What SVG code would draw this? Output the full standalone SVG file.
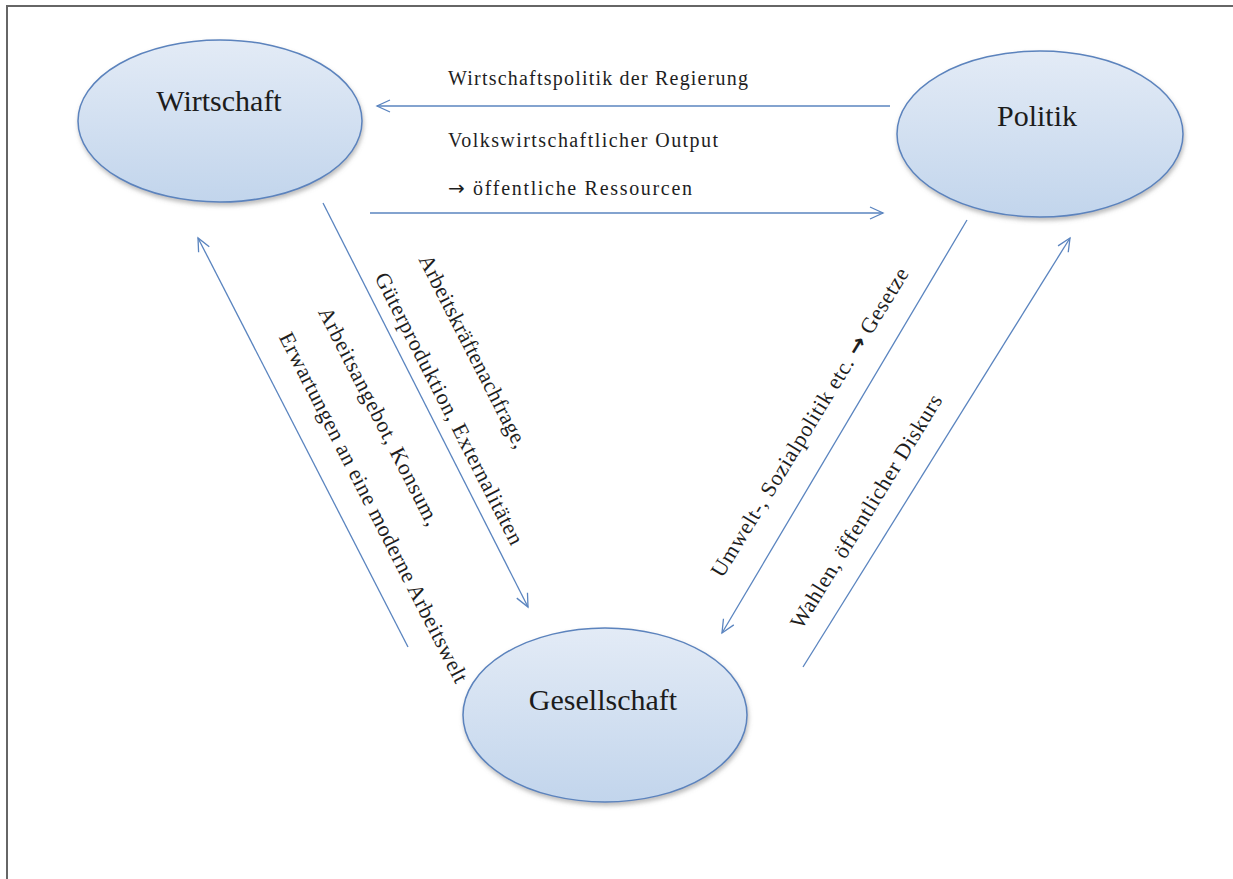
<svg xmlns="http://www.w3.org/2000/svg" width="1233" height="879" viewBox="0 0 1233 879">
  <defs>
    <linearGradient id="nodeFill" x1="0" y1="0" x2="0" y2="1">
      <stop offset="0" stop-color="#e3ebf6"/>
      <stop offset="1" stop-color="#c2d5ec"/>
    </linearGradient>
    <filter id="shadow" x="-10%" y="-10%" width="120%" height="130%">
      <feDropShadow dx="1" dy="3" stdDeviation="2" flood-color="#7a7a7a" flood-opacity="0.5"/>
    </filter>
    <marker id="arrow" markerUnits="userSpaceOnUse" markerWidth="16" markerHeight="16" refX="13" refY="6" orient="auto" overflow="visible">
      <path d="M0,0 L13,6 L0,12" fill="none" stroke="#5a84bf" stroke-width="1.3"/>
    </marker>
    <style>
      .node { fill: url(#nodeFill); stroke: #5b83bd; stroke-width: 1.5; filter: url(#shadow); }
      .ntext { font-family: "Liberation Serif", "Times New Roman", serif; font-size: 30px; fill: #1c1c1c; text-anchor: middle; }
      .conn { stroke: #5a84bf; stroke-width: 1.3; fill: none; marker-end: url(#arrow); }
      .lbl { font-family: "Liberation Serif", "Times New Roman", serif; font-size: 20px; fill: #1e1e1e; }
      .dlbl { font-family: "Liberation Serif", "Times New Roman", serif; font-size: 22px; fill: #1e1e1e; text-anchor: middle; }
      .arr { font-family: "DejaVu Sans", sans-serif; }
      .arrb { font-family: "DejaVu Sans", sans-serif; font-weight: bold; }
      .frame { stroke: #666; stroke-width: 2; fill: none; }
    </style>
  </defs>

  <rect width="1233" height="879" fill="#ffffff"/>
  <path class="frame" d="M7,879 L7,6 L1233,6"/>

  <g id="node-wirtschaft">
    <ellipse class="node" cx="220" cy="121" rx="142" ry="81"/>
    <text class="ntext" x="219" y="111">Wirtschaft</text>
  </g>
  <g id="node-politik">
    <ellipse class="node" cx="1040" cy="134" rx="143" ry="83"/>
    <text class="ntext" x="1037" y="126">Politik</text>
  </g>
  <g id="node-gesellschaft">
    <ellipse class="node" cx="605" cy="715" rx="142" ry="87"/>
    <text class="ntext" x="603" y="710">Gesellschaft</text>
  </g>

  <g id="connectors">
    <line class="conn" x1="890" y1="106" x2="377" y2="106"/>
    <line class="conn" x1="370" y1="213" x2="883" y2="213"/>
    <line class="conn" x1="323" y1="203" x2="528" y2="607"/>
    <line class="conn" x1="408" y1="647" x2="198" y2="238"/>
    <line class="conn" x1="967" y1="220" x2="722" y2="633"/>
    <line class="conn" x1="803" y1="667" x2="1070" y2="238"/>
  </g>

  <g id="labels">
    <text class="lbl" x="448" y="85" textLength="300" lengthAdjust="spacing">Wirtschaftspolitik der Regierung</text>
    <text class="lbl" x="448" y="147" textLength="270" lengthAdjust="spacing">Volkswirtschaftlicher Output</text>
    <text class="lbl" x="448" y="195" textLength="244" lengthAdjust="spacing"><tspan class="arr">→</tspan> öffentliche Ressourcen</text>

    <g transform="rotate(63)">
      <text class="dlbl" x="528" y="-255" textLength="214" lengthAdjust="spacing">Arbeitskräftenachfrage,</text>
      <text class="dlbl" x="568" y="-207.5" textLength="302" lengthAdjust="spacing">Güterproduktion, Externalitäten</text>
      <text class="dlbl" x="543" y="-141.7" textLength="242" lengthAdjust="spacing">Arbeitsangebot, Konsum,</text>
      <text class="dlbl" x="621.7" y="-95.3" textLength="390" lengthAdjust="spacing">Erwartungen an eine moderne Arbeitswelt</text>
    </g>
    <g transform="rotate(-58.5)">
      <text class="dlbl" x="63" y="918.3" textLength="358" lengthAdjust="spacing">Umwelt-, Sozialpolitik etc. <tspan class="arrb">→</tspan> Gesetze</text>
      <text class="dlbl" x="16.6" y="1013" textLength="270" lengthAdjust="spacing">Wahlen, öffentlicher Diskurs</text>
    </g>
  </g>
</svg>
